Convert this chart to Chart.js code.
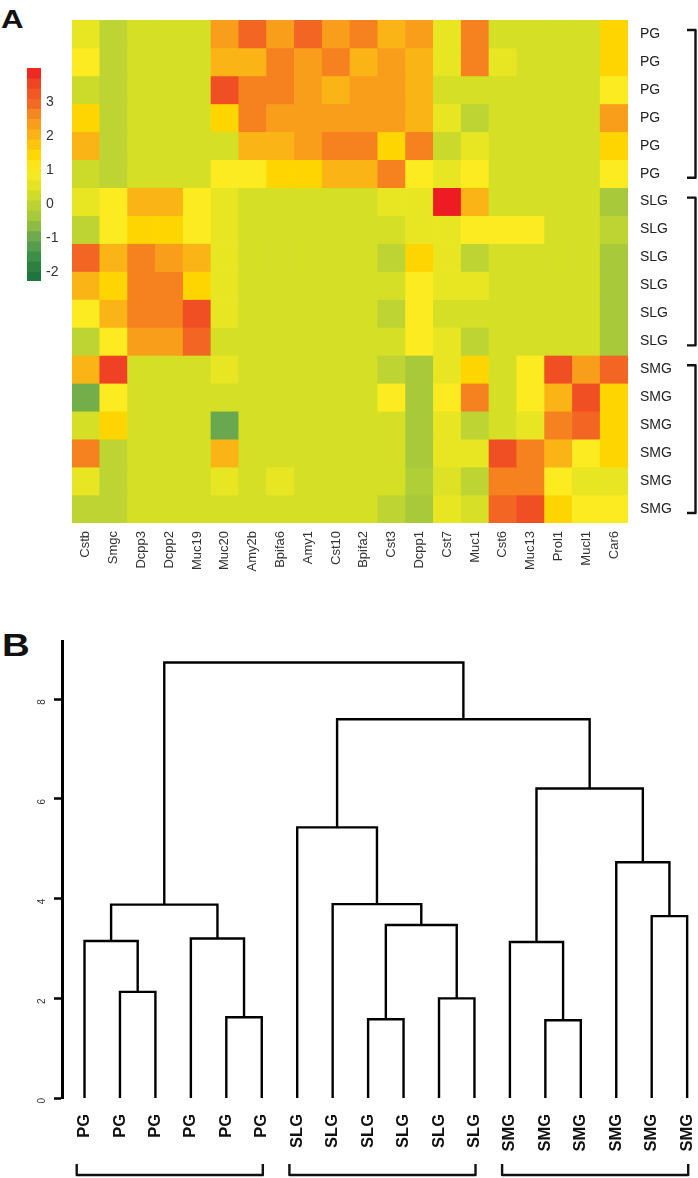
<!DOCTYPE html>
<html><head><meta charset="utf-8">
<script src="https://cdn.jsdelivr.net/npm/chart.js@4/dist/chart.umd.min.js"></script>
<style>
html,body{margin:0;padding:0;background:#fff;width:698px;height:1178px;overflow:hidden;position:relative;font-family:"Liberation Sans",Arial,Helvetica,sans-serif}
canvas{position:absolute}
.lbl{position:absolute;font-weight:bold;color:#111;line-height:1;transform:scaleX(1.2);transform-origin:left top}
</style></head><body>
<div class="lbl" style="left:1px;top:6px;font-size:26px">A</div>
<div class="lbl" style="left:2px;top:629px;font-size:32px">B</div>
<canvas id="heat" width="698" height="600" style="left:0;top:0"></canvas>
<canvas id="key" width="72" height="240" style="left:0;top:55px"></canvas>
<canvas id="dend" width="698" height="553" style="left:0;top:625px"></canvas>
<script>
// ---------- data ----------
const genes = ['Cstb','Smgc','Dcpp3','Dcpp2','Muc19','Muc20','Amy2b','Bpifa6','Amy1','Cst10','Bpifa2','Cst3','Dcpp1','Cst7','Muc1','Cst6','Muc13','Prol1','Mucl1','Car6'];
const samples = ['PG','PG','PG','PG','PG','PG','SLG','SLG','SLG','SLG','SLG','SLG','SMG','SMG','SMG','SMG','SMG','SMG'];
const groups = ['PG','SLG','SMG'];
const zScores = [
 [0.65,0.0,0.3,0.3,0.3,2.35,3.0,2.35,3.0,2.35,2.7,2.0,2.35,0.65,2.7,0.3,0.3,0.3,0.3,1.5],
 [1.0,0.0,0.3,0.3,0.3,2.0,2.0,2.7,2.35,2.7,2.0,2.35,2.0,0.65,2.7,0.65,0.3,0.3,0.3,1.5],
 [0.2,0.0,0.3,0.3,0.3,3.4,2.7,2.7,2.35,2.0,2.35,2.35,2.0,0.3,0.3,0.3,0.3,0.3,0.3,1.0],
 [1.5,0.0,0.3,0.3,0.3,1.5,2.7,2.35,2.35,2.35,2.35,2.35,2.0,0.65,0.0,0.3,0.3,0.3,0.3,2.35],
 [2.0,0.0,0.3,0.3,0.3,0.3,2.0,2.0,2.35,2.7,2.7,1.5,2.7,0.15,0.65,0.3,0.3,0.3,0.3,1.5],
 [0.2,0.0,0.3,0.3,0.3,1.0,1.0,1.5,1.5,2.0,2.0,2.7,1.0,0.65,1.0,0.3,0.3,0.3,0.3,1.0],
 [0.65,1.0,2.0,2.0,1.0,0.65,0.3,0.3,0.3,0.3,0.3,0.65,0.65,4.0,2.0,0.3,0.3,0.3,0.3,-0.35],
 [0.0,1.0,1.5,1.5,1.0,0.65,0.3,0.3,0.3,0.3,0.3,0.3,0.65,0.65,1.0,1.0,1.0,0.3,0.3,0.0],
 [3.0,2.0,2.7,2.35,2.0,0.65,0.3,0.3,0.3,0.3,0.3,0.0,1.5,0.65,0.0,0.3,0.3,0.3,0.3,-0.35],
 [2.0,1.5,2.7,2.7,1.5,0.65,0.3,0.3,0.3,0.3,0.3,0.3,1.0,0.65,0.65,0.3,0.3,0.3,0.3,-0.35],
 [1.0,2.0,2.7,2.7,3.4,0.65,0.3,0.3,0.3,0.3,0.3,0.0,1.0,0.3,0.3,0.3,0.3,0.3,0.3,-0.35],
 [0.0,1.0,2.35,2.35,3.0,0.3,0.3,0.3,0.3,0.3,0.3,0.3,1.0,0.65,0.0,0.3,0.3,0.3,0.3,-0.35],
 [2.0,3.6,0.3,0.3,0.3,0.65,0.3,0.3,0.3,0.3,0.3,0.0,-0.35,0.65,1.5,0.3,1.0,3.4,2.35,3.0],
 [-0.9,1.0,0.3,0.3,0.3,0.3,0.3,0.3,0.3,0.3,0.3,1.0,-0.35,1.0,2.7,0.3,1.0,2.0,3.4,1.5],
 [0.3,1.5,0.3,0.3,0.3,-1.0,0.3,0.3,0.3,0.3,0.3,0.3,-0.35,0.65,0.0,0.3,0.65,2.7,3.0,1.5],
 [2.7,0.0,0.3,0.3,0.3,2.0,0.3,0.3,0.3,0.3,0.3,0.3,-0.35,0.65,0.65,3.4,2.7,2.0,1.0,1.5],
 [0.65,0.0,0.3,0.3,0.3,0.65,0.3,0.65,0.3,0.3,0.3,0.3,-0.2,0.45,0.0,2.7,2.7,1.0,0.65,0.65],
 [0.0,0.0,0.3,0.3,0.3,0.3,0.3,0.3,0.3,0.3,0.3,0.0,-0.35,0.65,0.35,3.0,3.4,1.5,1.0,1.0]
];
const keyTicks = [-2,-1,0,1,2,3];
const keyBreaks = [-2.26,-2.0,-1.7,-1.4,-1.1,-0.8,-0.5,-0.2,0.1,0.4,0.7,1.0,1.3,1.6,1.9,2.2,2.5,2.8,3.1,3.4,3.7,4.02];

const leafLabels = ['PG','PG','PG','PG','PG','PG','SLG','SLG','SLG','SLG','SLG','SLG','SMG','SMG','SMG','SMG','SMG','SMG'];
const dendroMerge = [[-2,-3],[-5,-6],[-1,1],[-4,2],[3,4],[-9,-10],[-11,-12],[6,7],[-8,8],[-7,9],[-14,-15],[-13,11],[-17,-18],[-16,13],[12,14],[10,15],[5,16]];
const dendroHeight = [2.13,1.62,3.15,3.20,3.88,1.58,2.00,3.47,3.89,5.43,1.56,3.13,3.65,4.73,6.21,7.60,8.74];
const heightTicks = [0,2,4,6,8];

// ---------- styles ----------
const FONT = '"Liberation Sans", Arial, Helvetica, sans-serif';
const palette = [
 [-2.3,'#1b6b3a'],[-2.0,'#247a3f'],[-1.5,'#3f9148'],[-1.0,'#6aa84f'],[-0.5,'#9dc43d'],
 [0.0,'#bdd433'],[0.3,'#d4df26'],[0.65,'#e8e623'],[1.0,'#fdeb22'],[1.5,'#ffd500'],
 [2.0,'#fbb416'],[2.5,'#f7941d'],[3.0,'#f26522'],[3.5,'#ef4a24'],[4.0,'#ed1c24']
];
function hexRgb(h){return [1,3,5].map(i=>parseInt(h.slice(i,i+2),16));}
function colorFor(v){
  if (v <= palette[0][0]) return palette[0][1];
  if (v >= palette[palette.length-1][0]) return palette[palette.length-1][1];
  for (let k=0;k<palette.length-1;k++){
    const [a,ca]=palette[k],[b,cb]=palette[k+1];
    if (v>=a && v<=b){
      const t=(v-a)/(b-a), A=hexRgb(ca), B=hexRgb(cb);
      return 'rgb('+A.map((x,j)=>Math.round(x+(B[j]-x)*t)).join(',')+')';
    }
  }
}
Chart.defaults.font.family = FONT;
Chart.defaults.animation = false;
Chart.defaults.plugins.legend.display = false;
Chart.defaults.plugins.tooltip.enabled = false;

// ---------- heatmap ----------
const heatBrackets = {
  id:'heatBrackets',
  afterDraw(chart){
    const ctx=chart.ctx, y=chart.scales.y;
    ctx.save(); ctx.strokeStyle='#111'; ctx.lineWidth=2.4; ctx.lineJoin='round'; ctx.lineCap='butt';
    groups.forEach(g=>{
      const first=samples.indexOf(g), last=samples.lastIndexOf(g);
      const y0=y.getPixelForValue(first+0.5)-4, y1=y.getPixelForValue(last+0.5)+4;
      ctx.beginPath(); ctx.moveTo(687,y0); ctx.lineTo(695.5,y0); ctx.lineTo(695.5,y1); ctx.lineTo(687,y1); ctx.stroke();
    });
    ctx.restore();
  }
};
new Chart(document.getElementById('heat'),{
  type:'bar',
  data:{
    labels:genes,
    datasets:samples.map((s,i)=>({
      label:s,
      data:genes.map(()=>[i,i+1]),
      backgroundColor:zScores[i].map(colorFor),
      borderWidth:0, barPercentage:1, categoryPercentage:1
    }))
  },
  options:{
    responsive:false, devicePixelRatio:1,
    layout:{padding:{left:72,top:20,right:0,bottom:0}},
    scales:{
      x:{type:'category',stacked:true,grid:{display:false,drawTicks:false},border:{display:false},
         ticks:{minRotation:90,maxRotation:90,autoSkip:false,padding:8,color:'#333',font:{size:13}},
         afterFit(s){s.height=77;s.paddingLeft=0;s.paddingRight=0;}},
      y:{type:'linear',position:'right',reverse:true,min:0,max:samples.length,
         grid:{display:false,drawTicks:false},border:{display:false},
         afterBuildTicks(s){s.ticks=samples.map((_,i)=>({value:i+0.5}));},
         ticks:{autoSkip:false,padding:12,color:'#222',font:{size:14},callback:(v,i)=>samples[i]},
         afterFit(s){s.width=70;s.paddingTop=0;s.paddingBottom=0;}}
    }
  },
  plugins:[heatBrackets]
});

// ---------- colour key ----------
const keyBands = keyBreaks.slice(0,-1).map((lo,i)=>({lo,hi:keyBreaks[i+1]}));
new Chart(document.getElementById('key'),{
  type:'bar',
  data:{labels:[''],datasets:keyBands.map(b=>({data:[[b.lo,b.hi]],backgroundColor:colorFor((b.lo+b.hi)/2),borderWidth:0,barPercentage:1,categoryPercentage:1}))},
  options:{
    responsive:false, devicePixelRatio:1,
    layout:{padding:{left:27,top:13,right:0,bottom:14}},
    scales:{
      x:{display:false,stacked:true},
      y:{position:'right',min:keyBreaks[0],max:keyBreaks[keyBreaks.length-1],
         grid:{display:false,drawTicks:false},border:{display:false},
         afterBuildTicks(s){s.ticks=keyTicks.map(v=>({value:v}));},
         ticks:{padding:5,color:'#333',font:{size:14}},
         afterFit(s){s.width=31;s.paddingTop=0;s.paddingBottom=0;}}
    }
  }
});

// ---------- dendrogram ----------
const nodeX=[], nodeY=[];
function pos(id){ return id<0 ? {x:-id-1,y:0} : {x:nodeX[id-1],y:nodeY[id-1]}; }
const segs = dendroMerge.map((m,k)=>{
  const a=pos(m[0]), b=pos(m[1]), h=dendroHeight[k];
  nodeX[k]=(a.x+b.x)/2; nodeY[k]=h;
  return [{x:a.x,y:a.y},{x:a.x,y:h},{x:b.x,y:h},{x:b.x,y:b.y}];
});
const dendBrackets = {
  id:'dendBrackets',
  afterDraw(chart){
    const ctx=chart.ctx, x=chart.scales.x, yb=chart.height-3;
    ctx.save(); ctx.strokeStyle='#111'; ctx.lineWidth=2.4; ctx.lineJoin='round';
    groups.forEach(g=>{
      const first=leafLabels.indexOf(g), last=leafLabels.lastIndexOf(g);
      const x0=x.getPixelForValue(first-0.22), x1=x.getPixelForValue(last+0.03);
      ctx.beginPath(); ctx.moveTo(x0,yb-11); ctx.lineTo(x0,yb); ctx.lineTo(x1,yb); ctx.lineTo(x1,yb-11); ctx.stroke();
    });
    ctx.restore();
  }
};
new Chart(document.getElementById('dend'),{
  type:'scatter',
  data:{datasets:segs.map(s=>({data:s,showLine:true,borderColor:'#000',borderWidth:2.4,pointRadius:0,tension:0,clip:false,borderJoinStyle:'miter'}))},
  options:{
    responsive:false, devicePixelRatio:1,
    layout:{padding:{left:0,top:16,right:0,bottom:0}},
    scales:{
      x:{type:'linear',min:-0.635,max:17.306,grid:{display:false,drawTicks:false},border:{display:false},
         afterBuildTicks(s){s.ticks=leafLabels.map((_,i)=>({value:i}));},
         ticks:{minRotation:90,maxRotation:90,autoSkip:false,padding:16,color:'#111',font:{size:16.5,weight:'bold'},callback:(v,i)=>leafLabels[i]},
         afterFit(s){s.height=80;s.paddingLeft=0;s.paddingRight=0;}},
      y:{type:'linear',position:'left',min:0,max:9.17,
         border:{display:true,color:'#000',width:3},
         grid:{display:true,drawOnChartArea:false,drawTicks:true,tickLength:8,tickWidth:2.5,tickColor:'#000'},
         afterBuildTicks(s){s.ticks=heightTicks.map(v=>({value:v}));},
         ticks:{minRotation:90,maxRotation:90,padding:12,color:'#333',font:{size:10}},
         afterFit(s){s.width=62;s.paddingTop=0;s.paddingBottom=0;}}
    }
  },
  plugins:[dendBrackets]
});
</script>
</body></html>
